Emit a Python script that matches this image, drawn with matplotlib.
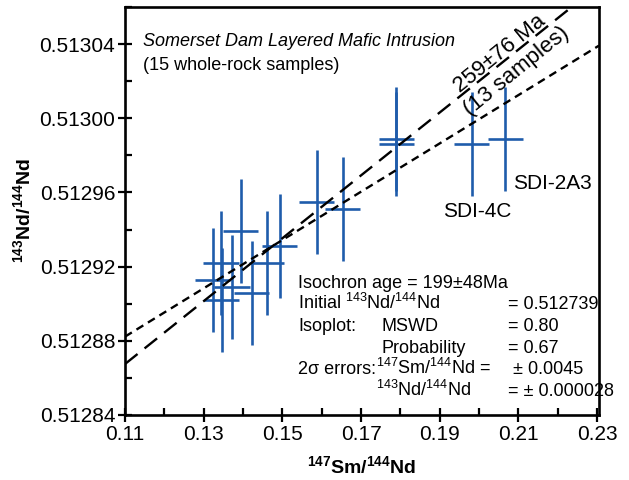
import numpy as np
import matplotlib
matplotlib.use("Agg")
import matplotlib.pyplot as plt
from matplotlib.ticker import MultipleLocator, FixedLocator, FormatStrFormatter

plt.rcParams['font.family'] = ['Liberation Sans', 'DejaVu Sans']
plt.rcParams['mathtext.fontset'] = 'custom'
plt.rcParams['mathtext.rm'] = 'Liberation Sans'
plt.rcParams['mathtext.it'] = 'Liberation Sans:italic'
plt.rcParams['mathtext.bf'] = 'Liberation Sans:bold'
plt.rcParams['mathtext.default'] = 'rm'

# ---- data ----
sm_nd = [0.1323, 0.1344, 0.1346, 0.1372, 0.1394, 0.1422, 0.1460, 0.1493,
         0.1587, 0.1653, 0.1790, 0.1790, 0.1981, 0.2067]
nd_nd = [0.512913, 0.512922, 0.512902, 0.512909, 0.512939, 0.512906, 0.512922,
         0.512931, 0.512955, 0.512951, 0.512989, 0.512986, 0.512986, 0.512989]
err_sm = 0.0045
err_nd = 0.000028

decay_const = 6.54e-12           # 147Sm decay constant (1/yr)
age_all, init_all = 199e6, 0.512739   # 15-sample isochron
age_13, init_13 = 259e6, 0.512681     # 13-sample isochron

x_major = [0.11, 0.13, 0.15, 0.17, 0.19, 0.21, 0.23]
x_minor = [0.12, 0.14, 0.16, 0.18, 0.20, 0.22]

xlim = (0.11, 0.2305)
ylim = (0.51284, 0.51306)

blue = '#1f5cab'

fig = plt.figure(figsize=(6.29, 4.80), dpi=100)
ax = fig.add_axes([125/629, 1-415/480, 474/629, 408/480])

ax.errorbar(sm_nd, nd_nd, xerr=err_sm, yerr=err_nd, fmt='none',
            ecolor=blue, elinewidth=1.9, capsize=0, zorder=2)

xs = np.array(xlim)
m_all = np.exp(decay_const*age_all) - 1
m_13 = np.exp(decay_const*age_13) - 1
ax.plot(xs, init_all + m_all*xs, color='black', lw=1.7, dashes=(3.4, 2.3), zorder=3)
ax.plot(xs, init_13 + m_13*xs, color='black', lw=1.7, dashes=(6.8, 3.8), zorder=3)

ax.set_xlim(*xlim)
ax.set_ylim(*ylim)
ax.xaxis.set_major_locator(FixedLocator(x_major))
ax.xaxis.set_minor_locator(FixedLocator(x_minor))
ax.yaxis.set_major_locator(MultipleLocator(0.00004))
ax.yaxis.set_minor_locator(MultipleLocator(0.00002))
ax.xaxis.set_major_formatter(FormatStrFormatter('%.2f'))
ax.yaxis.set_major_formatter(FormatStrFormatter('%.5f'))
ax.tick_params(which='major', direction='inout', length=10, width=1.6,
               labelsize=15, pad=2)
ax.tick_params(which='minor', direction='in', length=5, width=1.6)
for s in ax.spines.values():
    s.set_linewidth(1.9)

ax.set_xlabel(r'$^{\mathbf{147}}$Sm/$^{\mathbf{144}}$Nd', fontsize=14,
              fontweight='bold', labelpad=8)
ax.set_ylabel(r'$^{\mathbf{143}}$Nd/$^{\mathbf{144}}$Nd', fontsize=14,
              fontweight='bold', labelpad=4)

T = ax.transAxes
ax.text(0.038, 0.904, 'Somerset Dam Layered Mafic Intrusion', transform=T,
        fontsize=13, style='italic', va='baseline')
ax.text(0.038, 0.846, '(15 whole-rock samples)', transform=T,
        fontsize=13, va='baseline')

ax.text(0.671, 0.485, 'SDI-4C', transform=T, fontsize=15, va='baseline')
ax.text(0.819, 0.554, 'SDI-2A3', transform=T, fontsize=15, va='baseline')

ax.text(0.79, 0.885, '259±76 Ma', transform=T, fontsize=16, rotation=39,
        rotation_mode='anchor', ha='center', va='center')
ax.text(0.826, 0.843, '(13 samples)', transform=T, fontsize=16, rotation=39,
        rotation_mode='anchor', ha='center', va='center')

fs = 13
c1, c2, c3 = 0.365, 0.542, 0.808
rows = [0.311, 0.2598, 0.2059, 0.152, 0.1005, 0.0466]
ax.text(c1, rows[0], 'Isochron age = 199±48Ma', transform=T, fontsize=fs, va='baseline')
ax.text(c1, rows[1], r'Initial $^{143}$Nd/$^{144}$Nd', transform=T, fontsize=fs, va='baseline')
ax.text(c3, rows[1], '= 0.512739', transform=T, fontsize=fs, va='baseline')
ax.text(c1, rows[2], 'Isoplot:', transform=T, fontsize=fs, va='baseline')
ax.text(c2, rows[2], 'MSWD', transform=T, fontsize=fs, va='baseline')
ax.text(c3, rows[2], '= 0.80', transform=T, fontsize=fs, va='baseline')
ax.text(c2, rows[3], 'Probability', transform=T, fontsize=fs, va='baseline')
ax.text(c3, rows[3], '= 0.67', transform=T, fontsize=fs, va='baseline')
ax.text(c1, rows[4], '2σ errors:', transform=T, fontsize=fs, va='baseline')
ax.text(0.5295, rows[4], r'$^{147}$Sm/$^{144}$Nd =', transform=T, fontsize=fs, va='baseline')
ax.text(0.8186, rows[4], '± 0.0045', transform=T, fontsize=fs, va='baseline')
ax.text(0.5295, rows[5], r'$^{143}$Nd/$^{144}$Nd', transform=T, fontsize=fs, va='baseline')
ax.text(c3, rows[5], '= ± 0.000028', transform=T, fontsize=fs, va='baseline')

fig.savefig('out.png', dpi=100)
